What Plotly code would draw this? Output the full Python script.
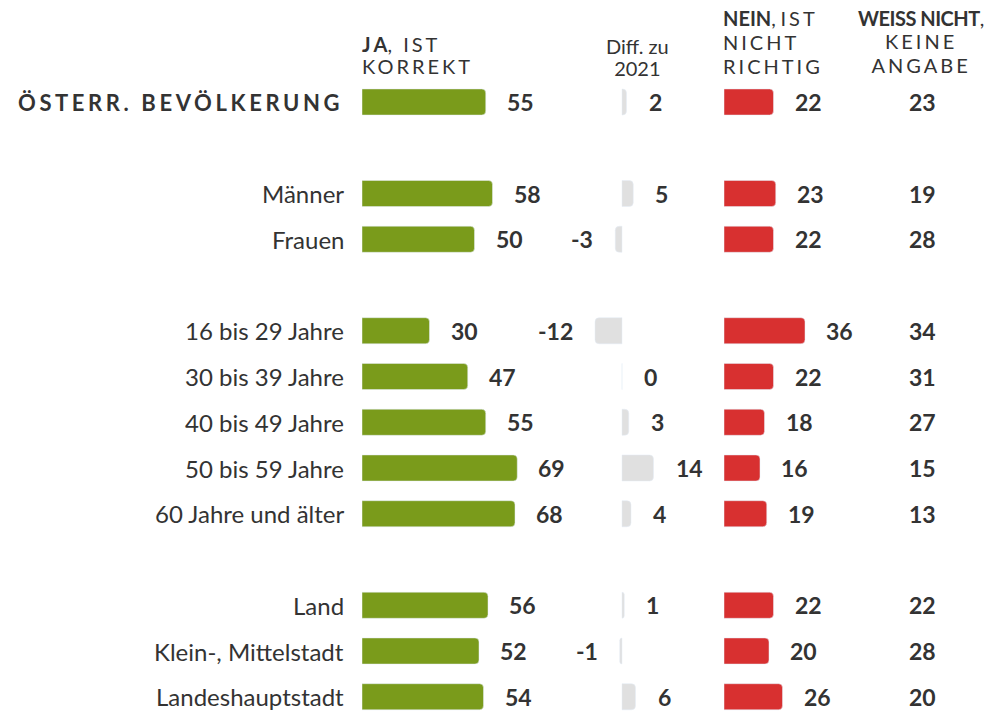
import plotly.graph_objects as go

# ---- data ----
categories = ["ÖSTERR. BEVÖLKERUNG", "Männer", "Frauen",
              "16 bis 29 Jahre", "30 bis 39 Jahre", "40 bis 49 Jahre",
              "50 bis 59 Jahre", "60 Jahre und älter",
              "Land", "Klein-, Mittelstadt", "Landeshauptstadt"]
groups = [0, 1, 1, 2, 2, 2, 2, 2, 3, 3, 3]
ja = [55, 58, 50, 30, 47, 55, 69, 68, 56, 52, 54]
diff_2021 = [2, 5, -3, -12, 0, 3, 14, 4, 1, -1, 6]
nein = [22, 23, 22, 36, 22, 18, 16, 19, 22, 20, 26]
weiss_nicht = [23, 19, 28, 34, 31, 27, 15, 13, 22, 28, 20]

# ---- layout constants ----
W, H = 990, 711
OFF = 0            # body margin removed via post_script
PX = 2.25          # pixels per percentage point
GREEN = "rgb(122,155,27)"
RED = "rgb(216,48,48)"
GREY = "rgb(224,224,224)"
TXT = "#333333"
FONT = "Lato, 'Open Sans', sans-serif"

# row slot positions (gap of one slot between groups)
pos = []
slot = 0
prev = groups[0]
for g in groups:
    if g != prev:
        slot += 1
        prev = g
    pos.append(slot)
    slot += 1

ROW_H = 45.75
Y0 = 102 - OFF
y_top = -Y0 / ROW_H
y_bot = (H - Y0) / ROW_H


def px(x):
    return (x - OFF) / W


def py(y):
    return 1 - (y - OFF) / H


fig = go.Figure()
bw = 0.57
fig.add_trace(go.Bar(y=pos, x=ja, orientation="h", marker_color=GREEN,
                     width=bw, xaxis="x", yaxis="y", hoverinfo="skip"))
fig.add_trace(go.Bar(y=pos, x=diff_2021, orientation="h", marker_color=GREY,
                     width=bw, xaxis="x2", yaxis="y", hoverinfo="skip"))
fig.add_trace(go.Bar(y=pos, x=nein, orientation="h", marker_color=RED,
                     width=bw, xaxis="x3", yaxis="y", hoverinfo="skip"))

ann = []
num_font = dict(family=FONT, size=23, color=TXT, weight="bold")
lab_font = dict(family=FONT, size=24, color=TXT)
for i, p in enumerate(pos):
    if i == 0:
        ann.append(dict(x=px(345), y=p, xref="paper", yref="y", xanchor="right",
                        text='<b><span style="letter-spacing:3.6px">' + categories[i] + '</span></b>',
                        showarrow=False, font=dict(family=FONT, size=22, color=TXT)))
    else:
        ann.append(dict(x=px(346), y=p, xref="paper", yref="y", xanchor="right",
                        text=categories[i], showarrow=False, font=lab_font))
    ann.append(dict(x=ja[i], y=p, xref="x", yref="y", xanchor="left", xshift=19,
                    text=str(ja[i]), showarrow=False, font=num_font))
    d = diff_2021[i]
    ann.append(dict(x=d, y=p, xref="x2", yref="y",
                    xanchor="left" if d >= 0 else "right",
                    xshift=20 if d >= 0 else -20,
                    text=str(d), showarrow=False, font=num_font))
    ann.append(dict(x=nein[i], y=p, xref="x3", yref="y", xanchor="left", xshift=19,
                    text=str(nein[i]), showarrow=False, font=num_font))
    ann.append(dict(x=px(922), y=p, xref="paper", yref="y", xanchor="center",
                    text=str(weiss_nicht[i]), showarrow=False, font=num_font))


def sp(t, ls=3):
    return '<span style="font-size:20px;letter-spacing:%spx">%s</span>' % (ls, t)


# multi-line headers: base font size sets the (tight) line spacing,
# the spans carry the visible 20px text
headers = [
    (360, 55, "left", 17, "<b>" + sp("J") + sp("A", 0) + "</b>" + sp(", IST") + "<br>" + sp("KORREKT")),
    (637, 57, "center", 17, sp("Diff. zu", 0) + "<br>" + sp("2021", 0)),
    (721, 42, "left", 18.3, "<b>" + sp("NEIN", 0) + "</b>" + sp(",", 0) + sp("IST") + "<br>" + sp("NICHT") + "<br>" + sp("RICHTIG")),
    (921, 42, "center", 18.0, "<b>" + sp("WEISS NICHT", -0.5) + "</b>" + sp(",", 0) + "<br>" + sp("KEINE") + "<br>" + sp("ANGABE")),
]
for x, y, xa, fs, t in headers:
    ann.append(dict(x=px(x), y=py(y), xref="paper", yref="paper", xanchor=xa,
                    yanchor="middle", text=t.replace(sp("IST"), " " + sp("IST")), showarrow=False, align=xa,
                    font=dict(family=FONT, size=fs, color=TXT)))

hidden = dict(visible=False, showgrid=False, zeroline=False, fixedrange=True)
fig.update_layout(
    width=W, height=H, margin=dict(l=0, r=0, t=0, b=0),
    paper_bgcolor="white", plot_bgcolor="white",
    showlegend=False, barcornerradius=4,
    xaxis=dict(domain=[px(362), px(362 + 100 * PX)], range=[0, 100], anchor="y", **hidden),
    xaxis2=dict(domain=[px(622 - 20 * PX), px(622 + 20 * PX)], range=[-20, 20], anchor="y", **hidden),
    xaxis3=dict(domain=[px(724), px(724 + 100 * PX)], range=[0, 100], anchor="y", **hidden),
    yaxis=dict(range=[y_bot, y_top], domain=[0, 1], **hidden),
    annotations=ann,
)
fig.write_html("out.html", config={"displayModeBar": False},
               post_script="document.body.style.margin='0';document.body.style.overflow='hidden';")
